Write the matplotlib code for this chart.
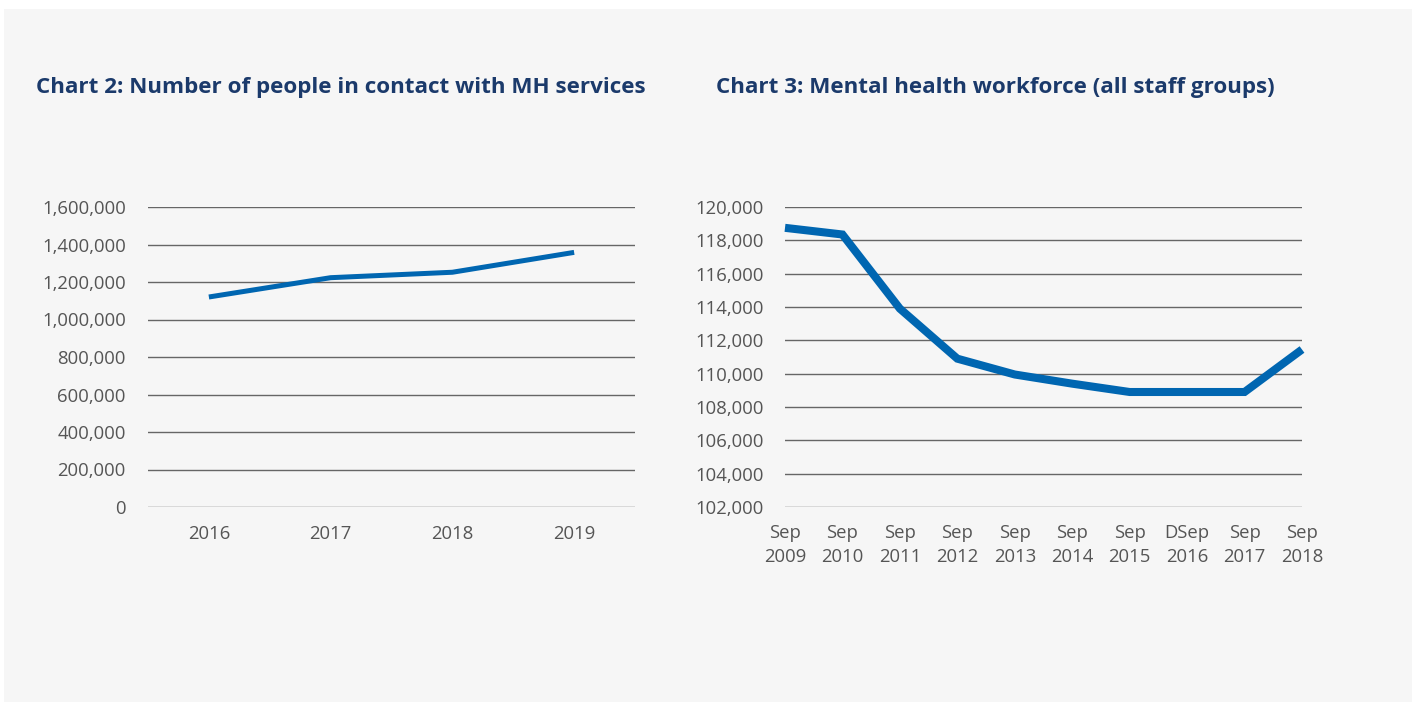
import matplotlib
matplotlib.use("Agg")
import matplotlib.pyplot as plt
from matplotlib.patches import Rectangle
from matplotlib.ticker import FuncFormatter

# ---- data ----
contact_years = ["2016", "2017", "2018", "2019"]
contact_people = [1120000, 1223000, 1252000, 1358000]

workforce_labels = ["Sep\n2009", "Sep\n2010", "Sep\n2011", "Sep\n2012", "Sep\n2013",
                    "Sep\n2014", "Sep\n2015", "DSep\n2016", "Sep\n2017", "Sep\n2018"]
workforce_staff = [118750, 118350, 113900, 110900, 109950, 109400, 108900, 108900, 108900, 111450]

title2 = "Chart 2: Number of people in contact with MH services"
title3 = "Chart 3: Mental health workforce (all staff groups)"

# ---- styling ----
W, H = 1415, 706
LINE = "#0066b1"
TITLE = "#1b3a6b"
TICK = "#555555"
GRID = "#666666"
PANEL = "#f6f6f6"
FONT = "Open Sans"

fig = plt.figure(figsize=(W / 100, H / 100), dpi=100, facecolor="white")
fig.patches.append(Rectangle((4 / W, 4 / H), 1408 / W, 693 / H, transform=fig.transFigure,
                             facecolor=PANEL, edgecolor="none", zorder=-10))

def ax_rect(x0, x1, ytop, ybot):
    return [x0 / W, (H - ybot) / H, (x1 - x0) / W, (ybot - ytop) / H]

fmt = FuncFormatter(lambda v, p: f"{int(round(v)):,}")

def style(ax):
    ax.set_facecolor("none")
    for s in ax.spines.values():
        s.set_visible(False)
    ax.tick_params(length=0, labelsize=13.3, labelcolor=TICK)
    ax.yaxis.set_major_formatter(fmt)
    ax.grid(axis="y", color=GRID, linewidth=1.0)
    ax.grid(axis="x", visible=False)
    ax.set_axisbelow(True)
    for lab in ax.get_xticklabels() + ax.get_yticklabels():
        lab.set_fontfamily(FONT)

# Chart 2
ax1 = fig.add_axes(ax_rect(148, 635, 207, 507))
x1 = list(range(len(contact_years)))
ax1.plot(x1, contact_people, color=LINE, linewidth=3.6, solid_capstyle="butt", clip_on=False)
ax1.set_xlim(-0.5, len(contact_years) - 0.5)
ax1.set_ylim(0, 1600000)
ax1.set_yticks(range(0, 1600001, 200000))
ax1.set_xticks(x1)
ax1.set_xticklabels(contact_years)
ax1.tick_params(axis="x", pad=13)
ax1.tick_params(axis="y", pad=16)
style(ax1)

# Chart 3
ax2 = fig.add_axes(ax_rect(785, 1302, 207, 507))
x2 = list(range(len(workforce_labels)))
ax2.plot(x2, workforce_staff, color=LINE, linewidth=5.8, solid_capstyle="butt",
         solid_joinstyle="miter", clip_on=False)
ax2.set_xlim(0, len(workforce_labels) - 1)
ax2.set_ylim(102000, 120000)
ax2.set_yticks(range(102000, 120001, 2000))
ax2.set_xticks(x2)
ax2.set_xticklabels(workforce_labels, linespacing=1.45)
ax2.tick_params(axis="x", pad=12)
ax2.tick_params(axis="y", pad=15)
style(ax2)

# Titles fitted to reference widths
renderer = fig.canvas.get_renderer()
def fit_title(txt, x, y, target_w):
    t = fig.text(x / W, 1 - y / H, txt, fontsize=16, fontweight="bold", color=TITLE,
                 family=FONT, ha="left", va="center")
    w = t.get_window_extent(renderer).width
    t.set_fontsize(16 * target_w / w)
    return t

fit_title(title2, 36, 88, 611)
fit_title(title3, 716, 88, 559)

fig.savefig("out.png", dpi=100, facecolor="white")
